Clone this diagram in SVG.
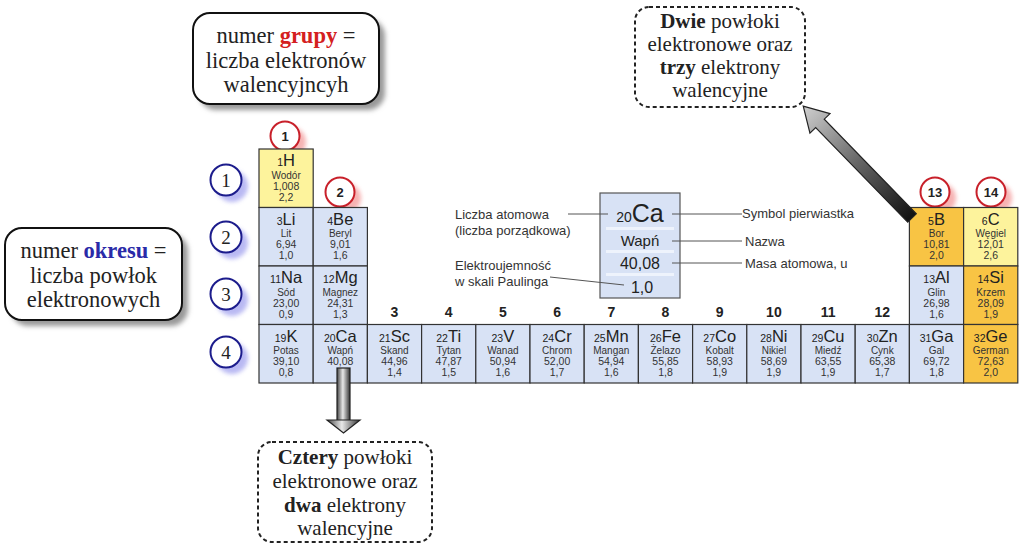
<svg xmlns="http://www.w3.org/2000/svg" width="1024" height="548" viewBox="0 0 1024 548">
<defs>
<style>
.cell{stroke:#333;stroke-width:1.2}
.blue{fill:#d8e2f5}.yel{fill:#fdf39c}.org{fill:#f8c444}
.sym{font-family:"Liberation Sans",Arial,sans-serif;font-size:16.5px;fill:#222;text-anchor:middle}
.sym .z{font-size:10.5px}
.nm{font-family:"Liberation Sans",Arial,sans-serif;font-size:10px;fill:#333;text-anchor:middle}
.num{font-family:"Liberation Sans",Arial,sans-serif;font-size:10.5px;fill:#333;text-anchor:middle}
.grp{font-family:"Liberation Sans",Arial,sans-serif;font-size:14px;font-weight:bold;fill:#222;text-anchor:middle}
.cal{font-family:"Liberation Serif","Times New Roman",serif;font-size:22.5px;fill:#222;text-anchor:middle}
.dsh{font-family:"Liberation Serif","Times New Roman",serif;font-size:21px;fill:#222;text-anchor:middle}
.lbl{font-family:"Liberation Sans",Arial,sans-serif;font-size:13px;fill:#333}
.lead{stroke:#555;stroke-width:1;fill:none}
.rc{fill:#fff;stroke:#c8202a;stroke-width:2}
.bc{fill:#fff;stroke:#1c1c8c;stroke-width:2}
.rcs{fill:#f39a9a;opacity:.75}
.bcs{fill:#a8a8f0;opacity:.8}
.rct{font-family:"Liberation Sans",Arial,sans-serif;font-size:13px;font-weight:bold;fill:#222;text-anchor:middle}
.bct{font-family:"Liberation Serif","Times New Roman",serif;font-size:19px;fill:#222;text-anchor:middle}
.box{fill:#fff;stroke:#111;stroke-width:2}
.dbox{fill:#fff;stroke:#222;stroke-width:2;stroke-dasharray:4 3}
</style>
<filter id="blur" x="-50%" y="-50%" width="200%" height="200%"><feGaussianBlur stdDeviation="2"/></filter>
<filter id="sblur" x="-10%" y="-10%" width="120%" height="130%"><feGaussianBlur stdDeviation="2.5"/></filter>
<linearGradient id="diag" x1="0" y1="0" x2="1" y2="0">
<stop offset="0" stop-color="#111"/><stop offset="0.5" stop-color="#666"/><stop offset="1" stop-color="#d0d0d0"/>
</linearGradient>
<linearGradient id="vert" x1="0" y1="0" x2="1" y2="0">
<stop offset="0" stop-color="#444"/><stop offset="0.45" stop-color="#e8e8e8"/><stop offset="1" stop-color="#333"/>
</linearGradient>
</defs>
<rect width="1024" height="548" fill="#fff"/>

<!-- callouts -->
<g id="callout-grupy">
<rect x="199" y="19" width="186" height="91" rx="17" fill="#999" filter="url(#sblur)"/>
<rect x="193" y="13" width="186" height="91" rx="17" class="box"/>
<text class="cal" x="286" y="43">numer <tspan fill="#d42020" font-weight="bold">grupy</tspan> =</text>
<text class="cal" x="286" y="68">liczba elektronów</text>
<text class="cal" x="286" y="92">walencyjncyh</text>
</g>
<g id="callout-okresu">
<rect x="11" y="234" width="177" height="92" rx="17" fill="#999" filter="url(#sblur)"/>
<rect x="5" y="228" width="177" height="92" rx="17" class="box"/>
<text class="cal" x="93.5" y="258">numer <tspan fill="#2a2aa8" font-weight="bold">okresu</tspan> =</text>
<text class="cal" x="93.5" y="283">liczba powłok</text>
<text class="cal" x="93.5" y="307">elektronowych</text>
</g>
<g id="callout-dwie">
<rect x="635" y="7" width="170" height="100" rx="14" class="dbox"/>
<text class="dsh" x="720" y="28"><tspan font-weight="bold">Dwie</tspan> powłoki</text>
<text class="dsh" x="720" y="51">elektronowe oraz</text>
<text class="dsh" x="720" y="74"><tspan font-weight="bold">trzy</tspan> elektrony</text>
<text class="dsh" x="720" y="97">walencyjne</text>
</g>
<g id="callout-cztery">
<rect x="258" y="442" width="174" height="100" rx="14" class="dbox"/>
<text class="dsh" x="345" y="464"><tspan font-weight="bold">Cztery</tspan> powłoki</text>
<text class="dsh" x="345" y="488">elektronowe oraz</text>
<text class="dsh" x="345" y="512"><tspan font-weight="bold">dwa</tspan> elektrony</text>
<text class="dsh" x="345" y="535">walencyjne</text>
</g>

<!-- period circles -->
<g id="period-1"><circle cx="232" cy="186" r="16" class="bcs" filter="url(#blur)"/><circle cx="226" cy="180" r="15.5" class="bc"/><text class="bct" x="226" y="187">1</text></g>
<g id="period-2"><circle cx="232" cy="243" r="16" class="bcs" filter="url(#blur)"/><circle cx="226" cy="237" r="15.5" class="bc"/><text class="bct" x="226" y="244">2</text></g>
<g id="period-3"><circle cx="232" cy="300" r="16" class="bcs" filter="url(#blur)"/><circle cx="226" cy="294" r="15.5" class="bc"/><text class="bct" x="226" y="301">3</text></g>
<g id="period-4"><circle cx="232" cy="358" r="16" class="bcs" filter="url(#blur)"/><circle cx="226" cy="352" r="15.5" class="bc"/><text class="bct" x="226" y="359">4</text></g>

<!-- group circles -->
<g id="group-1"><circle cx="291" cy="142" r="15" class="rcs" filter="url(#blur)"/><circle cx="285" cy="136" r="14.5" class="rc"/><text class="rct" x="285" y="141">1</text></g>
<g id="group-2"><circle cx="346" cy="198" r="15" class="rcs" filter="url(#blur)"/><circle cx="340" cy="192" r="14.5" class="rc"/><text class="rct" x="340" y="197">2</text></g>
<g id="group-13"><circle cx="941" cy="198" r="15" class="rcs" filter="url(#blur)"/><circle cx="935" cy="192" r="14.5" class="rc"/><text class="rct" x="935" y="197">13</text></g>
<g id="group-14"><circle cx="997" cy="198" r="15" class="rcs" filter="url(#blur)"/><circle cx="991" cy="192" r="14.5" class="rc"/><text class="rct" x="991" y="197">14</text></g>

<!-- group numbers 3-12 -->
<g id="group-numbers">
<text class="grp" x="394.5" y="317">3</text>
<text class="grp" x="448.7" y="317">4</text>
<text class="grp" x="502.9" y="317">5</text>
<text class="grp" x="557.1" y="317">6</text>
<text class="grp" x="611.3" y="317">7</text>
<text class="grp" x="665.5" y="317">8</text>
<text class="grp" x="719.7" y="317">9</text>
<text class="grp" x="773.9" y="317">10</text>
<text class="grp" x="828.1" y="317">11</text>
<text class="grp" x="882.3" y="317">12</text>
</g>

<!-- cells -->
<g id="cell-H" transform="translate(259,149)"><rect width="54.2" height="58.5" class="cell yel"/><text class="sym" x="27.1" y="17"><tspan class="z">1</tspan>H</text><text class="nm" x="27.1" y="29.5">Wodór</text><text class="num" x="27.1" y="40.5">1,008</text><text class="num" x="27.1" y="51.5">2,2</text></g>

<g id="cell-Li" transform="translate(259,207.5)"><rect width="54.2" height="58.5" class="cell blue"/><text class="sym" x="27.1" y="17"><tspan class="z">3</tspan>Li</text><text class="nm" x="27.1" y="29.5">Lit</text><text class="num" x="27.1" y="40.5">6,94</text><text class="num" x="27.1" y="51.5">1,0</text></g>
<g id="cell-Be" transform="translate(313.2,207.5)"><rect width="54.2" height="58.5" class="cell blue"/><text class="sym" x="27.1" y="17"><tspan class="z">4</tspan>Be</text><text class="nm" x="27.1" y="29.5">Beryl</text><text class="num" x="27.1" y="40.5">9,01</text><text class="num" x="27.1" y="51.5">1,6</text></g>
<g id="cell-B" transform="translate(909.4,207.5)"><rect width="54.2" height="58.5" class="cell org"/><text class="sym" x="27.1" y="17"><tspan class="z">5</tspan>B</text><text class="nm" x="27.1" y="29.5">Bor</text><text class="num" x="27.1" y="40.5">10,81</text><text class="num" x="27.1" y="51.5">2,0</text></g>
<g id="cell-C" transform="translate(963.6,207.5)"><rect width="54.2" height="58.5" class="cell yel"/><text class="sym" x="27.1" y="17"><tspan class="z">6</tspan>C</text><text class="nm" x="27.1" y="29.5">Węgiel</text><text class="num" x="27.1" y="40.5">12,01</text><text class="num" x="27.1" y="51.5">2,6</text></g>

<g id="cell-Na" transform="translate(259,266)"><rect width="54.2" height="58.5" class="cell blue"/><text class="sym" x="27.1" y="17"><tspan class="z">11</tspan>Na</text><text class="nm" x="27.1" y="29.5">Sód</text><text class="num" x="27.1" y="40.5">23,00</text><text class="num" x="27.1" y="51.5">0,9</text></g>
<g id="cell-Mg" transform="translate(313.2,266)"><rect width="54.2" height="58.5" class="cell blue"/><text class="sym" x="27.1" y="17"><tspan class="z">12</tspan>Mg</text><text class="nm" x="27.1" y="29.5">Magnez</text><text class="num" x="27.1" y="40.5">24,31</text><text class="num" x="27.1" y="51.5">1,3</text></g>
<g id="cell-Al" transform="translate(909.4,266)"><rect width="54.2" height="58.5" class="cell blue"/><text class="sym" x="27.1" y="17"><tspan class="z">13</tspan>Al</text><text class="nm" x="27.1" y="29.5">Glin</text><text class="num" x="27.1" y="40.5">26,98</text><text class="num" x="27.1" y="51.5">1,6</text></g>
<g id="cell-Si" transform="translate(963.6,266)"><rect width="54.2" height="58.5" class="cell org"/><text class="sym" x="27.1" y="17"><tspan class="z">14</tspan>Si</text><text class="nm" x="27.1" y="29.5">Krzem</text><text class="num" x="27.1" y="40.5">28,09</text><text class="num" x="27.1" y="51.5">1,9</text></g>

<g id="cell-K" transform="translate(259,324.5)"><rect width="54.2" height="58.5" class="cell blue"/><text class="sym" x="27.1" y="17"><tspan class="z">19</tspan>K</text><text class="nm" x="27.1" y="29.5">Potas</text><text class="num" x="27.1" y="40.5">39,10</text><text class="num" x="27.1" y="51.5">0,8</text></g>
<g id="cell-Ca" transform="translate(313.2,324.5)"><rect width="54.2" height="58.5" class="cell blue"/><text class="sym" x="27.1" y="17"><tspan class="z">20</tspan>Ca</text><text class="nm" x="27.1" y="29.5">Wapń</text><text class="num" x="27.1" y="40.5">40,08</text></g>
<g id="cell-Sc" transform="translate(367.4,324.5)"><rect width="54.2" height="58.5" class="cell blue"/><text class="sym" x="27.1" y="17"><tspan class="z">21</tspan>Sc</text><text class="nm" x="27.1" y="29.5">Skand</text><text class="num" x="27.1" y="40.5">44,96</text><text class="num" x="27.1" y="51.5">1,4</text></g>
<g id="cell-Ti" transform="translate(421.6,324.5)"><rect width="54.2" height="58.5" class="cell blue"/><text class="sym" x="27.1" y="17"><tspan class="z">22</tspan>Ti</text><text class="nm" x="27.1" y="29.5">Tytan</text><text class="num" x="27.1" y="40.5">47,87</text><text class="num" x="27.1" y="51.5">1,5</text></g>
<g id="cell-V" transform="translate(475.8,324.5)"><rect width="54.2" height="58.5" class="cell blue"/><text class="sym" x="27.1" y="17"><tspan class="z">23</tspan>V</text><text class="nm" x="27.1" y="29.5">Wanad</text><text class="num" x="27.1" y="40.5">50,94</text><text class="num" x="27.1" y="51.5">1,6</text></g>
<g id="cell-Cr" transform="translate(530,324.5)"><rect width="54.2" height="58.5" class="cell blue"/><text class="sym" x="27.1" y="17"><tspan class="z">24</tspan>Cr</text><text class="nm" x="27.1" y="29.5">Chrom</text><text class="num" x="27.1" y="40.5">52,00</text><text class="num" x="27.1" y="51.5">1,7</text></g>
<g id="cell-Mn" transform="translate(584.2,324.5)"><rect width="54.2" height="58.5" class="cell blue"/><text class="sym" x="27.1" y="17"><tspan class="z">25</tspan>Mn</text><text class="nm" x="27.1" y="29.5">Mangan</text><text class="num" x="27.1" y="40.5">54,94</text><text class="num" x="27.1" y="51.5">1,6</text></g>
<g id="cell-Fe" transform="translate(638.4,324.5)"><rect width="54.2" height="58.5" class="cell blue"/><text class="sym" x="27.1" y="17"><tspan class="z">26</tspan>Fe</text><text class="nm" x="27.1" y="29.5">Żelazo</text><text class="num" x="27.1" y="40.5">55,85</text><text class="num" x="27.1" y="51.5">1,8</text></g>
<g id="cell-Co" transform="translate(692.6,324.5)"><rect width="54.2" height="58.5" class="cell blue"/><text class="sym" x="27.1" y="17"><tspan class="z">27</tspan>Co</text><text class="nm" x="27.1" y="29.5">Kobalt</text><text class="num" x="27.1" y="40.5">58,93</text><text class="num" x="27.1" y="51.5">1,9</text></g>
<g id="cell-Ni" transform="translate(746.8,324.5)"><rect width="54.2" height="58.5" class="cell blue"/><text class="sym" x="27.1" y="17"><tspan class="z">28</tspan>Ni</text><text class="nm" x="27.1" y="29.5">Nikiel</text><text class="num" x="27.1" y="40.5">58,69</text><text class="num" x="27.1" y="51.5">1,9</text></g>
<g id="cell-Cu" transform="translate(801,324.5)"><rect width="54.2" height="58.5" class="cell blue"/><text class="sym" x="27.1" y="17"><tspan class="z">29</tspan>Cu</text><text class="nm" x="27.1" y="29.5">Miedź</text><text class="num" x="27.1" y="40.5">63,55</text><text class="num" x="27.1" y="51.5">1,9</text></g>
<g id="cell-Zn" transform="translate(855.2,324.5)"><rect width="54.2" height="58.5" class="cell blue"/><text class="sym" x="27.1" y="17"><tspan class="z">30</tspan>Zn</text><text class="nm" x="27.1" y="29.5">Cynk</text><text class="num" x="27.1" y="40.5">65,38</text><text class="num" x="27.1" y="51.5">1,7</text></g>
<g id="cell-Ga" transform="translate(909.4,324.5)"><rect width="54.2" height="58.5" class="cell blue"/><text class="sym" x="27.1" y="17"><tspan class="z">31</tspan>Ga</text><text class="nm" x="27.1" y="29.5">Gal</text><text class="num" x="27.1" y="40.5">69,72</text><text class="num" x="27.1" y="51.5">1,8</text></g>
<g id="cell-Ge" transform="translate(963.6,324.5)"><rect width="54.2" height="58.5" class="cell org"/><text class="sym" x="27.1" y="17"><tspan class="z">32</tspan>Ge</text><text class="nm" x="27.1" y="29.5">German</text><text class="num" x="27.1" y="40.5">72,63</text><text class="num" x="27.1" y="51.5">2,0</text></g>

<!-- legend cell -->
<g id="legend">
<rect x="600" y="193" width="80" height="105" fill="#d8e2f5" stroke="#555" stroke-width="1.2"/>
<rect x="606" y="227" width="68" height="3" fill="#eef3fc"/>
<rect x="606" y="250" width="68" height="3" fill="#eef3fc"/>
<rect x="606" y="273" width="68" height="3" fill="#eef3fc"/>
<text x="640" y="222" font-family="Liberation Sans,Arial,sans-serif" font-size="25" fill="#222" text-anchor="middle"><tspan font-size="14">20</tspan>Ca</text>
<text x="640" y="246" font-family="Liberation Sans,Arial,sans-serif" font-size="15" fill="#222" text-anchor="middle">Wapń</text>
<text x="640" y="269" font-family="Liberation Sans,Arial,sans-serif" font-size="16" fill="#222" text-anchor="middle">40,08</text>
<text x="642" y="293" font-family="Liberation Sans,Arial,sans-serif" font-size="16" fill="#222" text-anchor="middle">1,0</text>
<text class="lbl" x="455" y="219">Liczba atomowa</text>
<text class="lbl" x="455" y="235">(liczba porządkowa)</text>
<text class="lbl" x="455" y="270">Elektroujemność</text>
<text class="lbl" x="455" y="286">w skali Paulinga</text>
<text class="lbl" x="742" y="218">Symbol pierwiastka</text>
<text class="lbl" x="745" y="246">Nazwa</text>
<text class="lbl" x="745" y="268">Masa atomowa, u</text>
</g>

<!-- connectors -->
<g id="connectors">
<line class="lead" x1="568" y1="214" x2="608" y2="214"/>
<line class="lead" x1="550" y1="277" x2="624" y2="285"/>
<line class="lead" x1="672" y1="214" x2="742" y2="214"/>
<line class="lead" x1="672" y1="241" x2="742" y2="241"/>
<line class="lead" x1="672" y1="263" x2="742" y2="263"/>
<g id="arrow-Ca">
<rect x="337" y="368" width="13" height="53" fill="url(#vert)" stroke="#222" stroke-width="1.2"/>
<polygon points="327,420 360,420 343.5,433" fill="url(#vert)" stroke="#222" stroke-width="1.2"/>
</g>
<g id="arrow-B" transform="translate(912,218) rotate(225.8)">
<polygon points="0,-6 132,-6 132,-14 156,0 132,14 132,6 0,6" fill="url(#diag)" stroke="#222" stroke-width="1.2"/>
</g>
</g>
</svg>
